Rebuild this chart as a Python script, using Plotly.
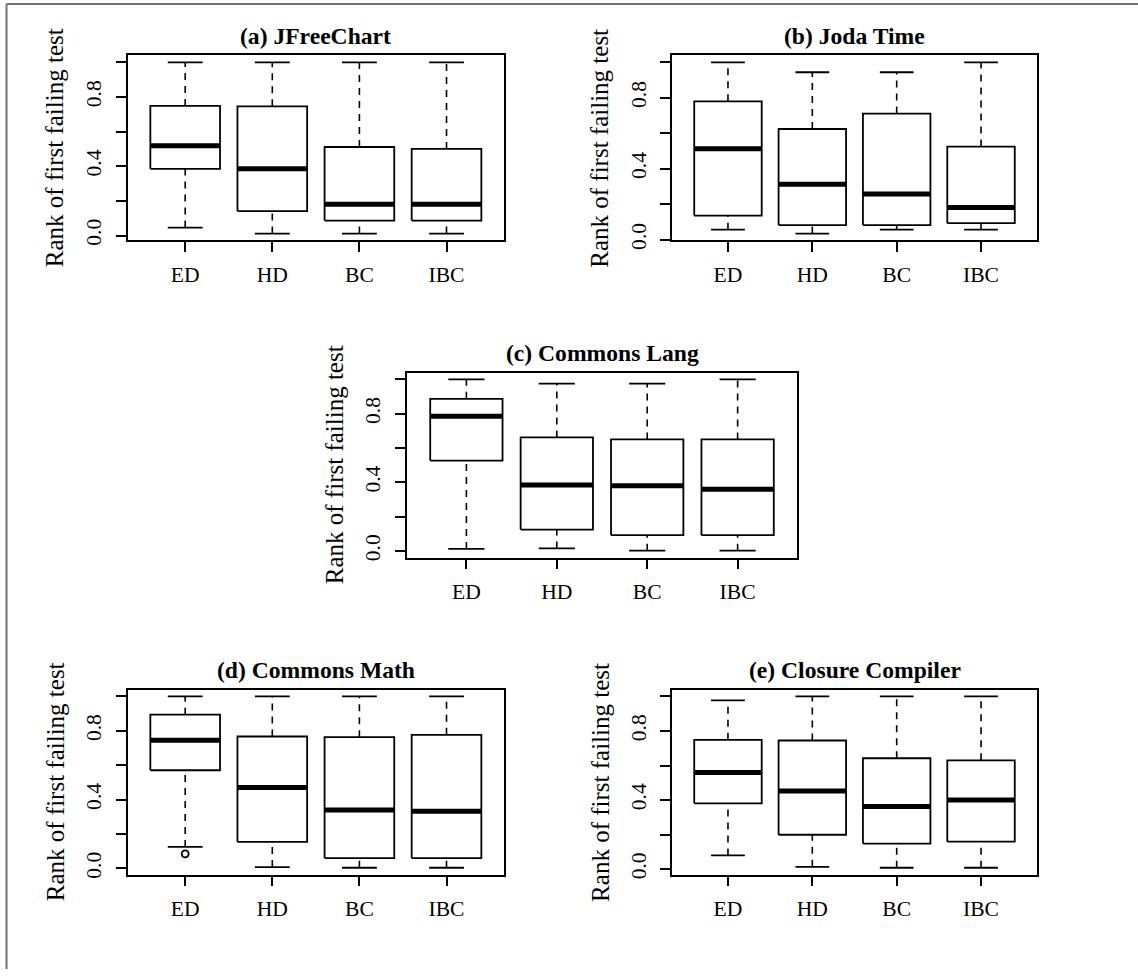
import plotly.graph_objects as go

categories = ["ED", "HD", "BC", "IBC"]
titles = ["(a) JFreeChart", "(b) Joda Time", "(c) Commons Lang",
          "(d) Commons Math", "(e) Closure Compiler"]
y_label = "Rank of first failing test"

# (a) JFreeChart
a_low = [0.046, 0.011, 0.011, 0.011]
a_q1 = [0.385, 0.141, 0.086, 0.086]
a_med = [0.519, 0.385, 0.181, 0.181]
a_q3 = [0.748, 0.746, 0.511, 0.500]
a_high = [1.0, 1.0, 1.0, 1.0]
a_out = [[], [], [], []]

# (b) Joda Time
b_low = [0.056, 0.034, 0.056, 0.056]
b_q1 = [0.136, 0.082, 0.082, 0.093]
b_med = [0.512, 0.313, 0.257, 0.181]
b_q3 = [0.780, 0.624, 0.711, 0.525]
b_high = [1.0, 0.944, 0.944, 1.0]
b_out = [[], [], [], []]

# (c) Commons Lang
c_low = [0.012, 0.015, 0.002, 0.002]
c_q1 = [0.527, 0.125, 0.092, 0.092]
c_med = [0.785, 0.385, 0.381, 0.360]
c_q3 = [0.887, 0.662, 0.650, 0.650]
c_high = [1.0, 0.975, 0.975, 1.0]
c_out = [[], [], [], []]

# (d) Commons Math
d_low = [0.125, 0.008, 0.004, 0.004]
d_q1 = [0.571, 0.154, 0.060, 0.060]
d_med = [0.746, 0.471, 0.340, 0.333]
d_q3 = [0.894, 0.767, 0.763, 0.777]
d_high = [1.0, 1.0, 1.0, 1.0]
d_out = [[0.085], [], [], []]

# (e) Closure Compiler
e_low = [0.079, 0.013, 0.008, 0.008]
e_q1 = [0.381, 0.199, 0.148, 0.159]
e_med = [0.559, 0.452, 0.362, 0.400]
e_q3 = [0.749, 0.745, 0.642, 0.630]
e_high = [0.977, 1.0, 1.0, 1.0]
e_out = [[], [], [], []]

panels = [
    (a_low, a_q1, a_med, a_q3, a_high, a_out),
    (b_low, b_q1, b_med, b_q3, b_high, b_out),
    (c_low, c_q1, c_med, c_q3, c_high, c_out),
    (d_low, d_q1, d_med, d_q3, d_high, d_out),
    (e_low, e_q1, e_med, e_q3, e_high, e_out),
]

W, H = 1138, 978
# plot areas in pixels: (left, right, top, bottom)
areas = [
    (127.7, 504.0, 56.0, 242.7),
    (672.3, 1036.7, 56.0, 242.7),
    (406.7, 797.3, 376.0, 562.7),
    (127.7, 504.0, 696.0, 882.7),
    (672.3, 1036.7, 696.0, 882.7),
]

FONT = "Liberation Serif"
BW = 0.4      # half box width
SW = 0.2      # half staple width
LW = 1.8

fig = go.Figure()
layout = dict(
    width=W, height=H, margin=dict(l=0, r=0, t=0, b=0),
    paper_bgcolor="white", plot_bgcolor="white", showlegend=False,
    font=dict(family=FONT, color="black", size=22),
)
annotations = []
shapes = []

for k, (low, q1, med, q3, high, out) in enumerate(panels):
    ax = "" if k == 0 else str(k + 1)
    xr, yr = "x" + ax, "y" + ax
    pos = list(range(1, len(categories) + 1))

    bx, by, mx, my, wx, wy, sx, sy, ox, oy = [], [], [], [], [], [], [], [], [], []
    for i, p in enumerate(pos):
        bx += [p - BW, p + BW, p + BW, p - BW, p - BW, None]
        by += [q1[i], q1[i], q3[i], q3[i], q1[i], None]
        mx += [p - BW, p + BW, None]
        my += [med[i], med[i], None]
        wx += [p, p, None, p, p, None]
        wy += [q3[i], high[i], None, low[i], q1[i], None]
        sx += [p - SW, p + SW, None, p - SW, p + SW, None]
        sy += [high[i], high[i], None, low[i], low[i], None]
        for o in out[i]:
            ox.append(p)
            oy.append(o)

    fig.add_trace(go.Scatter(x=wx, y=wy, mode="lines", xaxis=xr, yaxis=yr,
                             line=dict(color="black", width=1.6, dash="7px,6px"),
                             hoverinfo="skip"))
    fig.add_trace(go.Scatter(x=sx, y=sy, mode="lines", xaxis=xr, yaxis=yr,
                             line=dict(color="black", width=LW), hoverinfo="skip"))
    fig.add_trace(go.Scatter(x=bx, y=by, mode="lines", xaxis=xr, yaxis=yr,
                             line=dict(color="black", width=LW), hoverinfo="skip"))
    fig.add_trace(go.Scatter(x=mx, y=my, mode="lines", xaxis=xr, yaxis=yr,
                             line=dict(color="black", width=5), hoverinfo="skip"))
    if ox:
        fig.add_trace(go.Scatter(x=ox, y=oy, mode="markers", xaxis=xr, yaxis=yr,
                                 marker=dict(symbol="circle-open", size=7,
                                             color="black", line=dict(width=1.8)),
                                 hoverinfo="skip"))

    all_vals = low + high + [v for o in out for v in o]
    dmin, dmax = min(all_vals), max(all_vals)
    pad = 0.04 * (dmax - dmin)

    l, r, t, b = areas[k]
    xd = [l / W, r / W]
    yd = [1 - b / H, 1 - t / H]
    n = len(categories)
    layout["xaxis" + ax] = dict(
        domain=xd, anchor=yr, range=[0.5 - 0.04 * n, n + 0.5 + 0.04 * n],
        tickvals=pos, ticktext=categories, ticks="outside", ticklen=10,
        tickwidth=LW, tickcolor="black", showline=True, mirror=True,
        linecolor="black", linewidth=LW, showgrid=False, zeroline=False,
        tickfont=dict(size=21.6, family=FONT), ticklabelstandoff=4,
    )
    layout["yaxis" + ax] = dict(
        domain=yd, anchor=xr, range=[dmin - pad, dmax + pad],
        tickvals=[0, 0.2, 0.4, 0.6, 0.8, 1.0],
        ticktext=["0.0", "", "0.4", "", "0.8", ""],
        ticks="outside", ticklen=10, tickwidth=LW, tickcolor="black",
        tickangle=-90, showline=True, mirror=True, linecolor="black",
        linewidth=LW, showgrid=False, zeroline=False,
        tickfont=dict(size=21.6, family=FONT), ticklabelstandoff=6,
    )
    annotations.append(dict(
        text="<b>" + titles[k] + "</b>", xref="paper", yref="paper",
        x=(l + r) / 2 / W, y=1 - (t - 5.0) / H, xanchor="center",
        yanchor="bottom", showarrow=False,
        font=dict(size=23.6, family=FONT, color="black"),
    ))
    annotations.append(dict(
        text=y_label, xref="paper", yref="paper", textangle=-90,
        x=(l - 72.5) / W, y=1 - (t + b) / 2 / H, xanchor="center",
        yanchor="middle", showarrow=False,
        font=dict(size=25, family=FONT, color="black"),
    ))

shapes.append(dict(type="line", xref="paper", yref="paper",
                   x0=6.5 / W, x1=1, y0=1 - 4 / H, y1=1 - 4 / H,
                   line=dict(color="#707070", width=2)))
shapes.append(dict(type="line", xref="paper", yref="paper",
                   x0=6.5 / W, x1=6.5 / W, y0=0, y1=1 - 4 / H,
                   line=dict(color="#707070", width=2)))

layout["annotations"] = annotations
layout["shapes"] = shapes
fig.update_layout(**layout)
fig.write_html("out.html")
